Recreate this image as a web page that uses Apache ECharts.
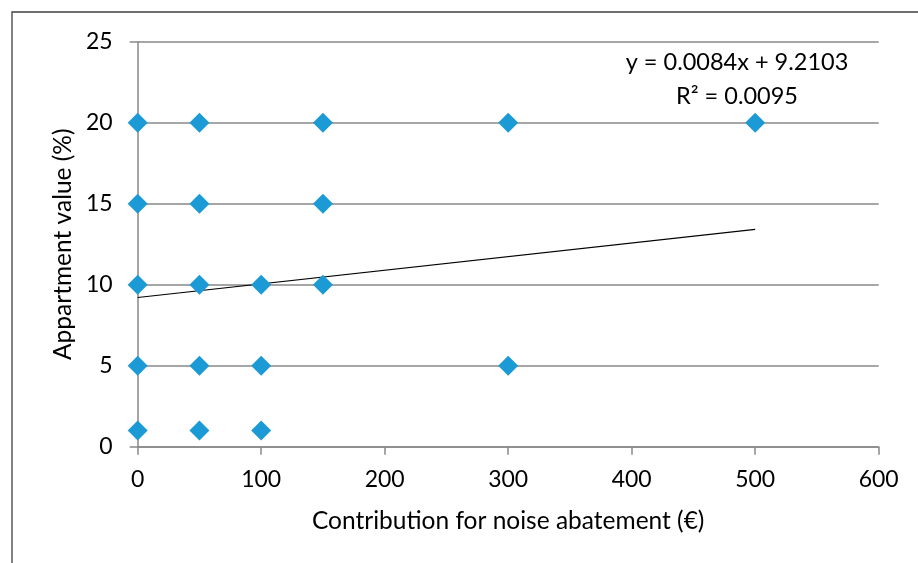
<!DOCTYPE html>
<html>
<head>
<meta charset="utf-8">
<script src="https://cdn.jsdelivr.net/npm/echarts@6/dist/echarts.min.js"></script>
<style>
  html, body { margin: 0; padding: 0; background: #fff; }
  #chart { width: 918px; height: 563px; }
</style>
</head>
<body>
<div id="chart"></div>
<script>
// survey points: contribution (€) vs apartment value (%)
var contribution = [0, 0, 0, 0, 0, 50, 50, 50, 50, 50, 100, 100, 100, 150, 150, 150, 300, 300, 500]
var apartValue = [20, 15, 10, 5, 1, 20, 15, 10, 5, 1, 10, 5, 1, 20, 15, 10, 20, 5, 20]
// linear trend line end points
var trendX = [0, 500]
var trendY = [9.21, 13.41]
var xTicks = [0, 100, 200, 300, 400, 500, 600]
var yTicks = [0, 5, 10, 15, 20, 25]
var equationText = 'y = 0.0084x + 9.2103'
var r2Text = 'R² = 0.0095'

var FONT = 'Lato'
var points = contribution.map(function (c, i) { return [c, apartValue[i]] })
var trend = trendX.map(function (x, i) { return [x, trendY[i]] })

var myChart = echarts.init(document.getElementById('chart'))
myChart.setOption({
  animation: false,
  textStyle: { fontFamily: FONT },
  grid: { left: 137.7, right: 39.3, top: 41.7, bottom: 116.3, containLabel: false },
  graphic: [
    {
      type: 'rect',
      shape: { x: 12, y: 12, width: 1000, height: 1000 },
      style: { fill: 'none', stroke: '#404040', lineWidth: 1.3 }
    },
    {
      type: 'text', x: 737, y: 62,
      style: { text: equationText, font: '23.5px ' + FONT, fill: '#000', align: 'center', verticalAlign: 'middle' }
    },
    {
      type: 'text', x: 737, y: 96,
      style: { text: r2Text, font: '23.5px ' + FONT, fill: '#000', align: 'center', verticalAlign: 'middle' }
    }
  ],
  xAxis: {
    type: 'value',
    min: xTicks[0],
    max: xTicks[xTicks.length - 1],
    interval: 100,
    name: 'Contribution for noise abatement (€)',
    nameLocation: 'middle',
    nameGap: 62,
    nameTextStyle: { fontSize: 24.5, color: '#000', fontFamily: FONT },
    axisLine: { show: true, lineStyle: { color: '#898989', width: 1.5 } },
    axisTick: { show: true, inside: false, length: 8, lineStyle: { color: '#898989', width: 1.5 } },
    axisLabel: { fontSize: 23, color: '#000', margin: 21, fontFamily: FONT },
    splitLine: { show: false }
  },
  yAxis: {
    type: 'value',
    min: yTicks[0],
    max: yTicks[yTicks.length - 1],
    interval: 5,
    name: 'Appartment value (%)',
    nameLocation: 'middle',
    nameGap: 62,
    nameTextStyle: { fontSize: 24.5, color: '#000', fontFamily: FONT },
    axisLine: { show: true, lineStyle: { color: '#898989', width: 1.5 } },
    axisTick: { show: true, inside: false, length: 8, lineStyle: { color: '#898989', width: 1.5 } },
    axisLabel: { fontSize: 23, color: '#000', margin: 25, fontFamily: FONT },
    splitLine: { show: true, lineStyle: { color: '#898989', width: 1.5 } }
  },
  series: [
    {
      name: 'trend',
      type: 'line',
      data: trend,
      symbol: 'none',
      lineStyle: { color: '#000', width: 1.2 },
      z: 3
    },
    {
      name: 'points',
      type: 'scatter',
      data: points,
      symbol: 'diamond',
      symbolSize: [20, 20],
      itemStyle: { color: '#1C9AD6', opacity: 1 },
      z: 4
    }
  ]
})
</script>
</body>
</html>
